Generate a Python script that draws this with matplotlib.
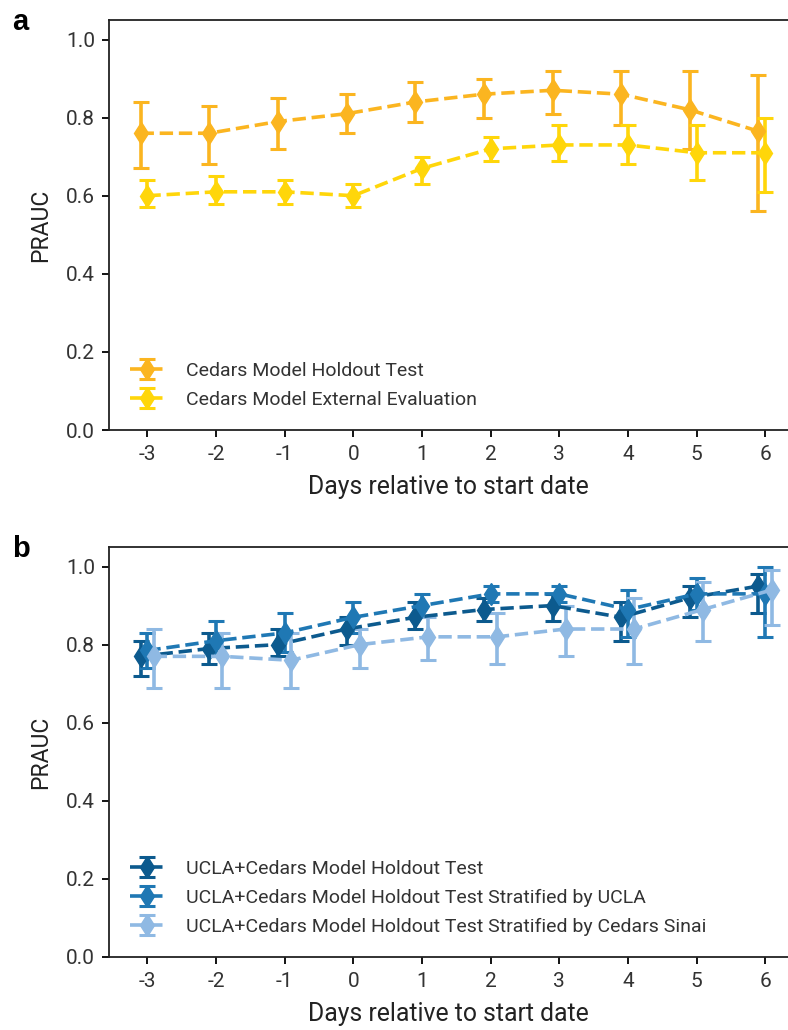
import matplotlib.pyplot as plt
import numpy as np

plt.rcParams['font.family'] = ['Roboto', 'DejaVu Sans']
plt.rcParams['axes.unicode_minus'] = False

days = np.arange(-3, 7)

# Panel a: Cedars model
cedars_holdout = [0.76, 0.76, 0.79, 0.81, 0.84, 0.86, 0.87, 0.86, 0.82, 0.765]
cedars_holdout_lo = [0.67, 0.68, 0.72, 0.76, 0.79, 0.80, 0.81, 0.78, 0.72, 0.56]
cedars_holdout_hi = [0.84, 0.83, 0.85, 0.86, 0.89, 0.90, 0.92, 0.92, 0.92, 0.91]

cedars_external = [0.60, 0.61, 0.61, 0.60, 0.67, 0.72, 0.73, 0.73, 0.71, 0.71]
cedars_external_lo = [0.57, 0.58, 0.58, 0.57, 0.63, 0.69, 0.69, 0.68, 0.64, 0.61]
cedars_external_hi = [0.64, 0.65, 0.64, 0.63, 0.70, 0.75, 0.78, 0.78, 0.78, 0.80]

# Panel b: UCLA+Cedars model
combined = [0.77, 0.79, 0.80, 0.84, 0.87, 0.89, 0.90, 0.87, 0.92, 0.95]
combined_lo = [0.72, 0.75, 0.77, 0.80, 0.84, 0.86, 0.86, 0.81, 0.87, 0.88]
combined_hi = [0.81, 0.83, 0.84, 0.87, 0.91, 0.92, 0.93, 0.91, 0.95, 0.98]

strat_ucla = [0.785, 0.81, 0.83, 0.87, 0.90, 0.93, 0.93, 0.89, 0.93, 0.93]
strat_ucla_lo = [0.74, 0.77, 0.78, 0.83, 0.87, 0.91, 0.91, 0.82, 0.89, 0.82]
strat_ucla_hi = [0.83, 0.86, 0.88, 0.91, 0.93, 0.95, 0.95, 0.94, 0.97, 1.00]

strat_cedars = [0.77, 0.77, 0.76, 0.80, 0.82, 0.82, 0.84, 0.84, 0.89, 0.94]
strat_cedars_lo = [0.69, 0.69, 0.69, 0.74, 0.76, 0.75, 0.77, 0.75, 0.81, 0.85]
strat_cedars_hi = [0.84, 0.83, 0.83, 0.84, 0.87, 0.88, 0.90, 0.92, 0.96, 0.99]


def draw(ax, x, y, lo, hi, color, label):
    y = np.array(y)
    err = [y - np.array(lo), np.array(hi) - y]
    ax.errorbar(x, y, yerr=err, color=color, label=label, marker='d',
                markersize=11.5, linestyle='--', linewidth=2.6, elinewidth=2.6,
                capsize=5.5, capthick=2.2)


def style(ax, label):
    ax.set_xlim(-3.56, 6.33)
    ax.set_ylim(0, 1.05)
    ax.set_xticks(days)
    ax.set_yticks([0.0, 0.2, 0.4, 0.6, 0.8, 1.0])
    ax.spines['right'].set_visible(False)
    for s in ['left', 'top', 'bottom']:
        ax.spines[s].set_linewidth(1.3)
        ax.spines[s].set_color('#222222')
    ax.tick_params(direction='out', length=5, width=1.3, labelsize=15,
                   labelcolor='#333333')
    ax.tick_params(axis='x', pad=6)
    ax.tick_params(axis='y', pad=5)
    ax.set_xlabel('Days relative to start date', fontsize=17.8, color='#222222', labelpad=8)
    ax.set_ylabel('PRAUC', fontsize=16.5, color='#222222', labelpad=10)
    ax.legend(loc='lower left', frameon=False, fontsize=14, labelcolor='#333333',
              handlelength=1.75, handletextpad=1.1, labelspacing=0.55,
              borderaxespad=0.7)
    ax.text(-0.143, 0.975, label, transform=ax.transAxes, fontsize=21,
            fontweight='bold', ha='left', va='baseline', family='Liberation Sans')


fig = plt.figure(figsize=(7.88, 10.3), dpi=100)
ax1 = fig.add_axes([0.1383, 0.5825, 0.8617, 0.3981])
ax2 = fig.add_axes([0.1383, 0.0709, 0.8617, 0.3980])

draw(ax1, days - 0.1, cedars_holdout, cedars_holdout_lo, cedars_holdout_hi,
     '#fbb520', 'Cedars Model Holdout Test')
draw(ax1, days, cedars_external, cedars_external_lo, cedars_external_hi,
     '#ffd60a', 'Cedars Model External Evaluation')
style(ax1, 'a')

draw(ax2, days - 0.1, combined, combined_lo, combined_hi,
     '#0c5a8e', 'UCLA+Cedars Model Holdout Test')
draw(ax2, days, strat_ucla, strat_ucla_lo, strat_ucla_hi,
     '#1f78b4', 'UCLA+Cedars Model Holdout Test Stratified by UCLA')
draw(ax2, days + 0.09, strat_cedars, strat_cedars_lo, strat_cedars_hi,
     '#8fb9e3', 'UCLA+Cedars Model Holdout Test Stratified by Cedars Sinai')
style(ax2, 'b')

fig.savefig('out.png', dpi=100)
